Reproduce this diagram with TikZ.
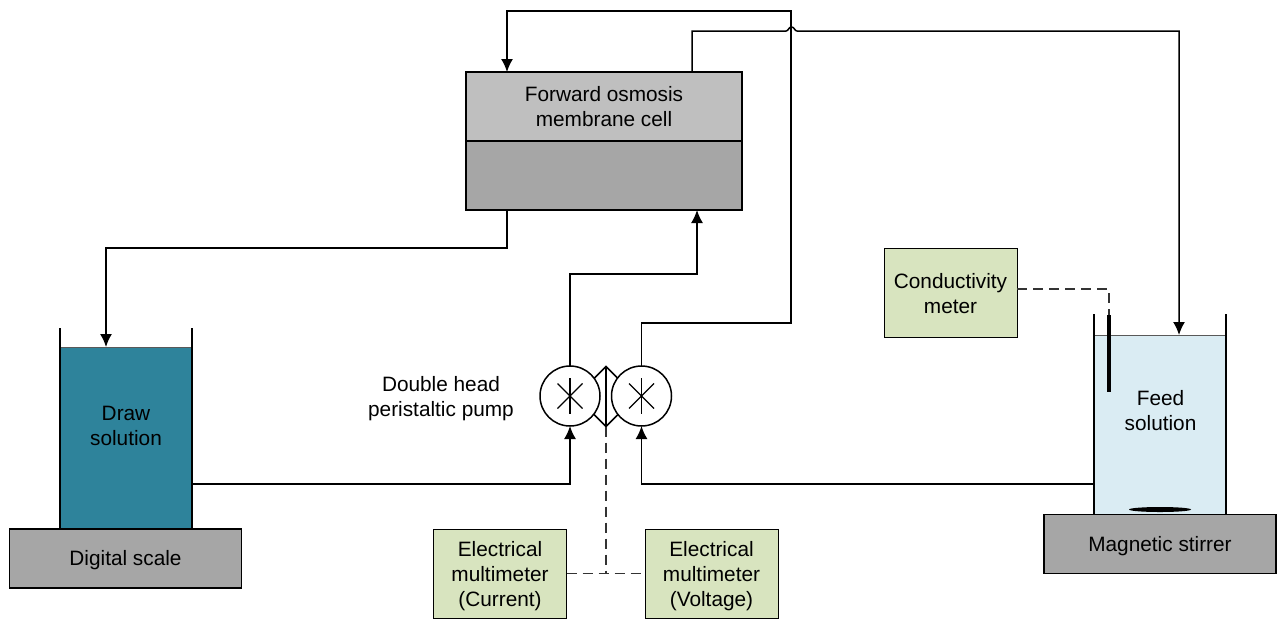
\documentclass[tikz,border=0pt]{standalone}
\usepackage{fontspec}
\setmainfont{Liberation Sans}
\usetikzlibrary{arrows.meta,shapes.geometric}
\definecolor{drawblue}{HTML}{2E839B}
\definecolor{feedblue}{HTML}{DAECF3}
\definecolor{boxgreen}{HTML}{D8E4BF}
\definecolor{lightgrey}{HTML}{BFBFBF}
\definecolor{midgrey}{HTML}{A6A6A6}
\tikzset{
  every node/.style={font=\fontsize{20.8}{25}\selectfont,align=center,inner sep=0pt,outer sep=0pt},
  pipe/.style={line width=1.5pt,draw=black},
  signal/.style={line width=1.2pt,draw=black!80,dash pattern=on 10pt off 6pt},
  slab/.style={draw=black,line width=1.2pt,fill=#1},
  cellbox/.style={slab=#1,minimum width=276pt,minimum height=69pt},
  basebox/.style={slab=midgrey,minimum width=232pt,minimum height=59pt},
  meterbox/.style={slab=boxgreen,line width=1pt,minimum width=133pt,minimum height=89pt},
  liquid/.style={fill=#1,draw=black!65,line width=1pt,minimum width=132pt},
  pumphead/.style={circle,draw=black,line width=1.5pt,fill=white,minimum size=60pt}
}
\begin{document}
\begin{tikzpicture}[x=1pt,y=-1pt,>={Latex[length=13pt,width=12pt]}]
  \useasboundingbox (0,0) rectangle (1281,619);
  \path
  node[cellbox=lightgrey] (cell_a) at (604,106.5) {Forward osmosis\\membrane cell}
  node[cellbox=midgrey] (cell_b) at (604,175.5) {}
  node[liquid=drawblue,minimum height=182pt] (draw_sol) at (126,438) {}
  node[liquid=feedblue,minimum height=179pt] (feed_sol) at (1160,424.5) {}
  node[basebox] (scale) at (125.5,558.5) {}
  node[basebox] (stirrer) at (1160,544) {}
  node[meterbox] (cond) at (950.5,293) {}
  node[meterbox] (mult_i) at (500,573.5) {}
  node[meterbox] (mult_v) at (711.5,573.5) {}
  node[yshift=-2pt] (scale_text) at (scale) {Digital scale}
  node[yshift=-2pt] (stirrer_text) at (stirrer) {Magnetic stirrer}
  node[yshift=-1pt] (cond_text) at (cond) {Conductivity\\meter}
  node[yshift=-3pt] (mult_i_text) at (mult_i) {Electrical\\multimeter\\(Current)}
  node[yshift=-3pt] (mult_v_text) at (mult_v) {Electrical\\multimeter\\(Voltage)}
  node (draw_text) at (126,425.5) {Draw\\solution}
  node (feed_text) at (1160.5,410.5) {Feed\\solution}
  node (pump_text) at (441,398.5) {Double head\\peristaltic pump}
  node[diamond,draw=black,line width=1.5pt,minimum size=60pt,shape aspect=1] (valve) at (606,396.5) {}
  node[pumphead] (pump_l) at (570,396) {}
  node[pumphead] (pump_r) at (641.5,396) {}
  node[fill=black,minimum width=4pt,minimum height=77pt] (probe) at (1109,353.5) {}
  node[ellipse,fill=black,minimum width=62pt,minimum height=5pt] (magnet) at (1160,509.5) {}
  ;
  % tank walls
  \draw[pipe] (60,328) -- (draw_sol.south west);
  \draw[pipe] (192,328) -- (draw_sol.south east);
  \draw[pipe] (1094,314) -- (feed_sol.south west);
  \draw[pipe] (1226,314) -- (feed_sol.south east);
  % pump heads
  \foreach \p in {pump_l,pump_r}{
    \draw[line width=1.1pt] (\p.center) +(0,-18) -- +(0,18);
    \draw[line width=1.1pt] (\p.center) +(-12.5,-12.5) -- +(12.5,12.5);
    \draw[line width=1.1pt] (\p.center) +(-12.5,12.5) -- +(12.5,-12.5);
  }
  \draw[line width=2.2pt] (valve.north) -- (valve.south);
  \path
  coordinate (draw_in) at (106,347)
  coordinate (draw_out) at (192,484)
  coordinate (feed_in) at (1179,335)
  coordinate (feed_out) at (1094,484)
  coordinate (cell_a_in) at (507,72)
  coordinate (cell_a_out) at (692,72)
  coordinate (cell_b_in) at (697,210)
  coordinate (cell_b_out) at (507,210)
  coordinate (bend_a) at (570,274)
  coordinate (bend_b) at (641.5,323)
  coordinate (bend_c) at (791,11)
  coordinate (bend_d) at (507,248)
  coordinate (bump_l) at (786,31)
  coordinate (bump_r) at (797,31)
  coordinate (cond_out) at (1017,289)
  coordinate (dash_join) at (606,573.5)
  ;
  % pipes
  \draw[pipe,->] (draw_out) -| (pump_l.south);
  \draw[pipe,->] (feed_out) -| (pump_r.south);
  \draw[pipe,->] (pump_l.north) -- (bend_a) -| (cell_b_in);
  \draw[pipe,->] (pump_r.north) -- (bend_b) -| (bend_c) -| (cell_a_in);
  \draw[pipe,->] (cell_b_out) -- (bend_d) -| (draw_in);
  \draw[pipe,->] (cell_a_out) |- (bump_l)
    .. controls (788.5,31) and (788.5,27) .. (791.5,27)
    .. controls (794.5,27) and (794.5,31) .. (bump_r) -| (feed_in);
  % signal lines
  \draw[signal] (cond_out) -| (probe.north);
  \draw[signal] (mult_i.east) -- (mult_v.west);
  \draw[signal] (valve.south) -- (dash_join);
\end{tikzpicture}
\end{document}
